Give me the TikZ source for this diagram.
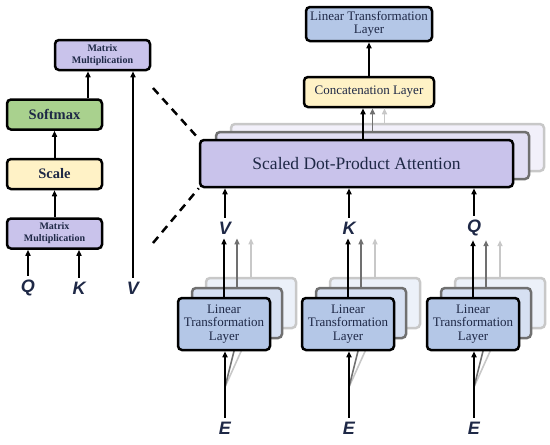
\documentclass[tikz,border=0pt]{standalone}
\usepackage{fontspec}
\setmainfont{Liberation Serif}
\setsansfont{Liberation Sans}
\usetikzlibrary{arrows.meta}
\definecolor{mmpurple}{HTML}{C9C3EB}
\definecolor{smgreen}{HTML}{A9D18E}
\definecolor{scyellow}{HTML}{FFF2C6}
\definecolor{ltblue}{HTML}{B4C7E7}
\definecolor{inkblue}{HTML}{1E2846}
\definecolor{midgray}{HTML}{707070}
\definecolor{palegray}{HTML}{C8C8C8}

\begin{document}
\begin{tikzpicture}[x=1pt, y=-1pt,
  box/.style={draw=black, line width=2.5pt, rounded corners=4pt, inner sep=0pt,
    text=inkblue, align=center},
  mmbox/.style={box, fill=mmpurple, minimum width=95pt, minimum height=30pt,
    font=\fontsize{10}{12}\selectfont\bfseries},
  opbox/.style={box, minimum width=95pt, minimum height=30pt,
    font=\fontsize{14.5}{16}\selectfont\bfseries},
  layerbox/.style={box, fill=ltblue, font=\fontsize{13}{13.5}\selectfont},
  sym/.style={font=\fontsize{18}{18}\selectfont\sffamily\bfseries\itshape,
    text=inkblue, inner sep=4pt},
  arr/.style={-{Triangle[length=6pt,width=5pt]}, line width=2pt},
  arrmid/.style={arr, draw=midgray, line width=1.6pt},
  arrpale/.style={arr, draw=palegray, line width=1.6pt}]
  \useasboundingbox (0,0) rectangle (550,445);

  % --- left: inside of the attention block ---
  \node[mmbox] (mmtop) at (102.5,55) {Matrix\\Multiplication};
  \node[opbox, fill=smgreen] (softmax) at (54.5,114.5) {Softmax};
  \node[opbox, fill=scyellow] (scale) at (54.5,174) {Scale};
  \node[mmbox] (mmbot) at (54.5,233.5) {Matrix\\Multiplication};
  \node[sym] (qL) at (28,288) {Q};
  \node[sym] (kL) at (79,288) {K};
  \node[sym] (vL) at (133,288) {V};
  \draw[arr] (qL.north) -- (qL.north |- mmbot.south);
  \draw[arr] (kL.north) -- (kL.north |- mmbot.south);
  \draw[arr] (mmbot) -- (scale);
  \draw[arr] (scale) -- (softmax);
  \draw[arr] ([xshift=33.5]softmax.north) -- ([xshift=33.5]softmax.north |- mmtop.south);
  \draw[arr] (vL.north) -- (vL.north |- mmtop.south);

  % --- right: stacked attention heads (back copies first) ---
  \node[box, fill=mmpurple!25, draw=palegray, minimum width=313pt, minimum height=47pt]
    (attnB) at (387.5,147.5) {};
  \node[box, fill=mmpurple!55, draw=midgray, minimum width=313pt, minimum height=47pt]
    (attnA) at (372.5,155.5) {};
  \node[box, fill=mmpurple, minimum width=313pt, minimum height=47pt,
    font=\fontsize{17.5}{18}\selectfont] (attn) at (356.5,163.5) {Scaled Dot-Product Attention};

  % zoom lines from the small block to the big one
  \coordinate (zoomA) at (153,88);
  \coordinate (zoomB) at (153,243);
  \draw[line width=2.5pt, dash pattern=on 8pt off 6pt] (zoomA) -- (attn.north west);
  \draw[line width=2.5pt, dash pattern=on 8pt off 6pt] (zoomB) -- (attn.south west);

  \node[box, fill=scyellow, minimum width=130pt, minimum height=30pt,
    font=\fontsize{13}{13.5}\selectfont] (concat) at (369,92) {Concatenation Layer};
  \node[layerbox, minimum width=126pt, minimum height=34pt] (lintop) at (369,24)
    {Linear Transformation\\Layer};
  \draw[arr] (concat) -- (lintop);
  \draw[arrpale] ([xshift=-3]attnB.north) -- ([xshift=-3]attnB.north |- concat.south);
  \draw[arrmid] (attnA.north) -- (attnA.north |- concat.south);
  \draw[arr] ([xshift=6.5]attn.north) -- ([xshift=6.5]attn.north |- concat.south);

  % --- three input branches: V, K, Q ---
  \foreach \x/\lab/\i in {224/V/1, 348/K/2, 473/Q/3} {
    \node[box, fill=ltblue!25, draw=palegray, minimum width=90pt, minimum height=50pt]
      (ltB\i) at (\x+27,303) {};
    \node[box, fill=ltblue!55, draw=midgray, minimum width=90pt, minimum height=50pt]
      (ltA\i) at (\x+13,313) {};
    \coordinate (fan\i) at (\x+1,387);
    \draw[palegray, line width=1.6pt] (fan\i) -- (ltB\i.south);
    \draw[midgray, line width=1.6pt] (fan\i) -- (ltA\i.south);
    \node[layerbox, minimum width=92pt, minimum height=52pt] (lt\i) at (\x,324)
      {Linear\\Transformation\\Layer};
    \node[sym] (in\i) at (\x+1,228) {\lab};
    \node[sym] (e\i) at (\x+1,428) {E};
    \draw[arr] (e\i.north) -- (e\i.north |- lt\i.south);
    \draw[arr] (lt\i.north) -- (lt\i.north |- in\i.south);
    \draw[arrmid] (ltA\i.north) -- (ltA\i.north |- in\i.south);
    \draw[arrpale] (ltB\i.north) -- (ltB\i.north |- in\i.south);
    \draw[arr] (in\i.north) -- (in\i.north |- attn.south);
  }
\end{tikzpicture}
\end{document}
